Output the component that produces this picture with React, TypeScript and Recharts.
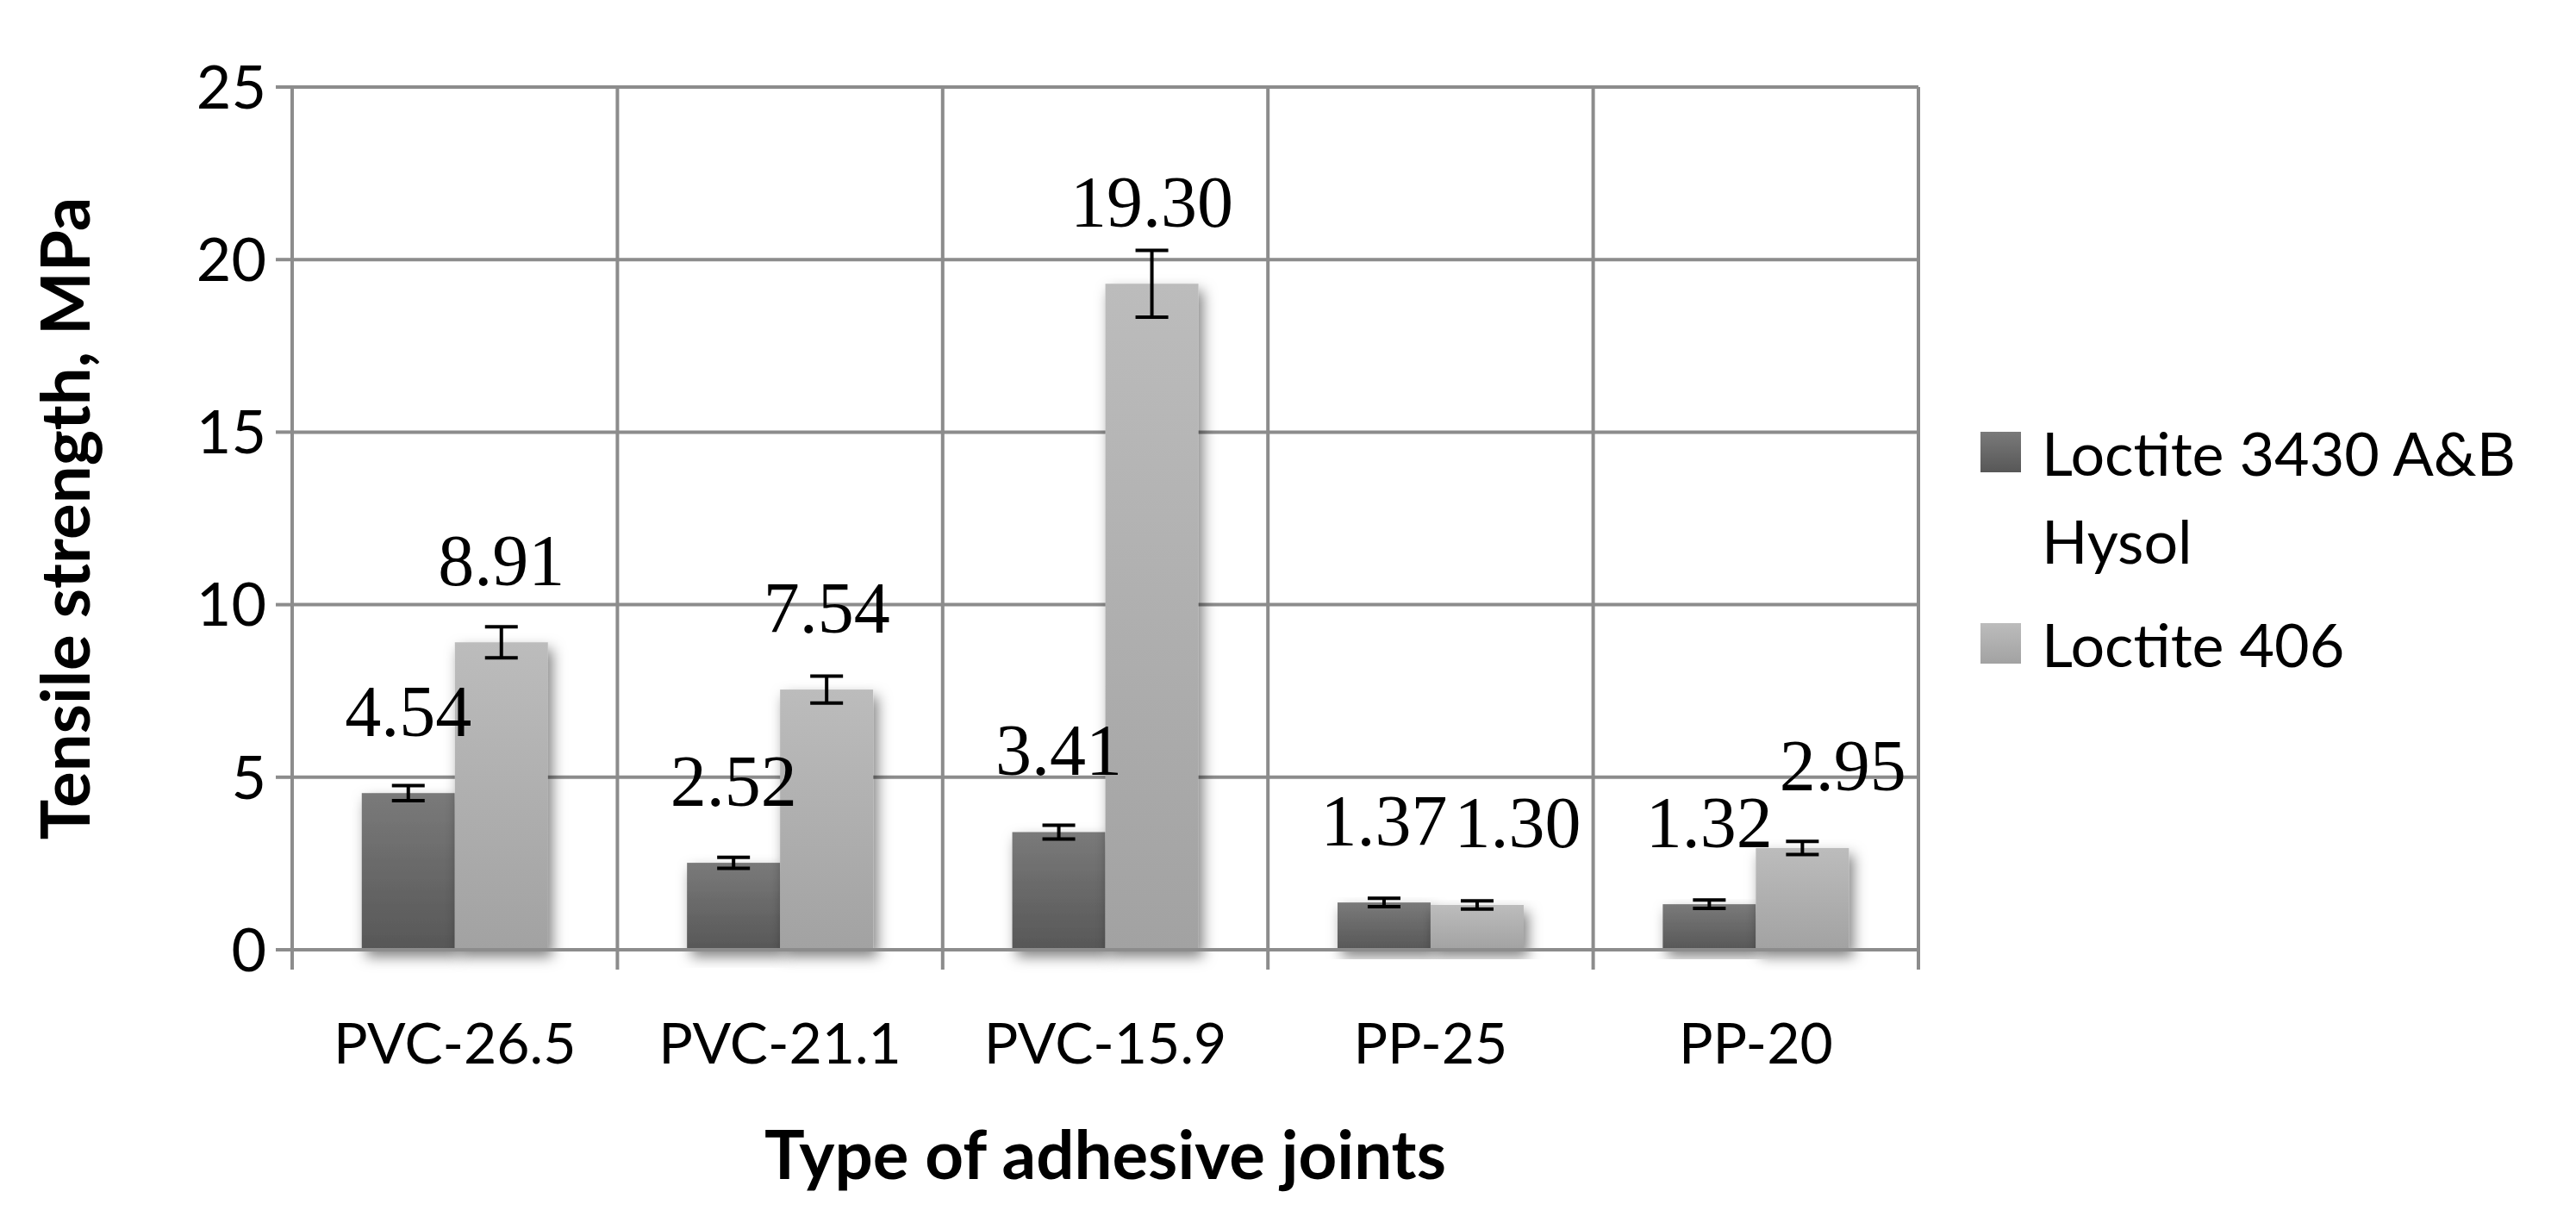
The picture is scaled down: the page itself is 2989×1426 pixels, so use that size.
import { BarChart, Bar, XAxis, YAxis, CartesianGrid, ErrorBar, LabelList } from "recharts";

const categories = ["PVC-26.5", "PVC-21.1", "PVC-15.9", "PP-25", "PP-20"];
const hysolValues = [4.54, 2.52, 3.41, 1.37, 1.32];
const hysolErrors = [0.22, 0.16, 0.2, 0.12, 0.12];
const l406Values = [8.91, 7.54, 19.3, 1.3, 2.95];
const l406Errors = [0.45, 0.39, 0.97, 0.12, 0.19];
const yTicks = [0, 5, 10, 15, 20, 25];
const seriesNames = ["Loctite 3430 A&B Hysol", "Loctite 406"];

const data = categories.map((name, i) => ({
  name,
  hysol: hysolValues[i],
  hysolErr: hysolErrors[i],
  l406: l406Values[i],
  l406Err: l406Errors[i],
}));

const W = 2973;
const H = 1410;
const GRID = "#8c8c8c";
const SANS = "Lato, 'Open Sans', sans-serif";
const SERIF = "'Liberation Serif', 'DejaVu Serif', serif";
const LABEL_SIZE = 84;
const LABEL_RISE = 95;
const PLOT_W = 1887;
const BAND = PLOT_W / categories.length;

const fmt = (v: number) => v.toFixed(2);
// rough width of a number in the serif font
const textWidth = (s: string) => (s.length - 1) * 0.5 * LABEL_SIZE + 0.25 * LABEL_SIZE;

function CategoryTick(props: any) {
  const { x, y, payload, index } = props;
  const half = BAND / 2;
  return (
    <g>
      <line x1={x - half} x2={x - half} y1={y} y2={y + 23} stroke={GRID} strokeWidth={4} />
      {index === categories.length - 1 && (
        <line x1={x + half} x2={x + half} y1={y} y2={y + 23} stroke={GRID} strokeWidth={4} />
      )}
      <text x={x} y={y + 132} textAnchor="middle" fontFamily={SANS} fontSize={66} fill="#000">
        {payload.value}
      </text>
    </g>
  );
}

function HysolLabel(props: any) {
  const vb = props.viewBox ?? props;
  const { x, y, width } = vb;
  return (
    <text x={x + width / 2} y={y - LABEL_RISE} textAnchor="middle" dominantBaseline="central"
      fontFamily={SERIF} fontSize={LABEL_SIZE} fill="#000">
      {fmt(Number(props.value))}
    </text>
  );
}

function L406Label(props: any) {
  const vb = props.viewBox ?? props;
  const { x, y, width, height } = vb;
  const value = Number(props.value);
  const darkVal = hysolValues[props.index];
  const base = y + height;
  const darkTop = base - (height * darkVal) / value;
  const darkCx = x - width / 2;
  const darkCy = darkTop - LABEL_RISE;
  const cy = y - LABEL_RISE;
  let cx = x + width / 2;
  const wD = textWidth(fmt(darkVal));
  const wL = textWidth(fmt(value));
  // push right when it would sit on top of the neighbour's label
  if (Math.abs(cy - darkCy) < LABEL_SIZE && cx - wL / 2 < darkCx + wD / 2 + 8) {
    cx = darkCx + wD / 2 + 8 + wL / 2;
  }
  return (
    <text x={cx} y={cy} textAnchor="middle" dominantBaseline="central"
      fontFamily={SERIF} fontSize={LABEL_SIZE} fill="#000">
      {fmt(value)}
    </text>
  );
}

const barShape = (grad: string) => (props: any) => {
  const { x, y, width, height } = props;
  return <rect x={x} y={y} width={width} height={height} fill={`url(#${grad})`} filter="url(#barShadow)" />;
};

const legendItems = [
  { name: seriesNames[0], bg: "linear-gradient(#7a7a7a, #575757)" },
  { name: seriesNames[1], bg: "linear-gradient(#bcbcbc, #a2a2a2)" },
];

export default function App() {
  return (
    <div style={{ position: "relative", width: W, height: H, background: "#fff" }}>
      <BarChart
        width={W}
        height={H}
        data={data}
        margin={{ top: 93, right: 755, bottom: 0, left: 0 }}
        barCategoryGap="21.4%"
        barGap={0}
      >
        <defs>
          <linearGradient id="gradDark" x1="0" y1="0" x2="0" y2="1">
            <stop offset="0%" stopColor="#7a7a7a" />
            <stop offset="100%" stopColor="#575757" />
          </linearGradient>
          <linearGradient id="gradLight" x1="0" y1="0" x2="0" y2="1">
            <stop offset="0%" stopColor="#bcbcbc" />
            <stop offset="100%" stopColor="#a2a2a2" />
          </linearGradient>
          <filter id="barShadow" x="-30%" y="-10%" width="160%" height="130%">
            <feDropShadow dx="5" dy="8" stdDeviation="8" floodColor="#000" floodOpacity="0.5" />
          </filter>
        </defs>
        <CartesianGrid
          stroke={GRID}
          strokeWidth={4}
          verticalCoordinatesGenerator={(p: any) =>
            [0, 1, 2, 3, 4, 5].map((i) => p.offset.left + (i * p.offset.width) / categories.length)
          }
        />
        <XAxis
          dataKey="name"
          height={316}
          tickLine={false}
          tickSize={0}
          tickMargin={0}
          axisLine={{ stroke: GRID, strokeWidth: 4 }}
          tick={<CategoryTick />}
          interval={0}
          label={{
            content: (p: any) => {
              const vb = p.viewBox;
              return (
                <text x={vb.x + vb.width / 2} y={vb.y + 236} textAnchor="middle" dominantBaseline="central"
                  fontFamily={SANS} fontWeight="bold" fontSize={78} fill="#000">
                  Type of adhesive joints
                </text>
              );
            },
          }}
        />
        <YAxis
          width={331}
          domain={[0, 25]}
          ticks={yTicks}
          interval={0}
          tickSize={19}
          tickMargin={11}
          tickLine={{ stroke: GRID, strokeWidth: 4 }}
          axisLine={{ stroke: GRID, strokeWidth: 4 }}
          tick={{ fontFamily: SANS, fontSize: 70, fill: "#000" }}
          label={{
            content: (p: any) => {
              const vb = p.viewBox;
              const cy = vb.y + vb.height / 2;
              return (
                <text transform={`translate(66, ${cy}) rotate(-90)`} textAnchor="middle" dominantBaseline="central"
                  fontFamily={SANS} fontWeight="bold" fontSize={78} fill="#000">
                  Tensile strength, MPa
                </text>
              );
            },
          }}
        />
        <Bar dataKey="hysol" name={seriesNames[0]} shape={barShape("gradDark")} isAnimationActive={false}>
          <ErrorBar dataKey="hysolErr" width={19} strokeWidth={4} stroke="#000" direction="y" />
          <LabelList dataKey="hysol" content={<HysolLabel />} />
        </Bar>
        <Bar dataKey="l406" name={seriesNames[1]} shape={barShape("gradLight")} isAnimationActive={false}>
          <ErrorBar dataKey="l406Err" width={19} strokeWidth={4} stroke="#000" direction="y" />
          <LabelList dataKey="l406" content={<L406Label />} />
        </Bar>
      </BarChart>
      <div style={{ position: "absolute", left: 2290, top: 466, fontFamily: SANS, fontSize: 70, color: "#000" }}>
        {legendItems.map((it, i) => (
          <div key={it.name} style={{ display: "flex", alignItems: "flex-start", marginTop: i === 0 ? 0 : 18 }}>
            <div style={{ width: 47, height: 47, marginTop: 27, marginRight: 24, background: it.bg, flexShrink: 0 }} />
            <div style={{ width: 600, lineHeight: "102px" }}>{it.name}</div>
          </div>
        ))}
      </div>
    </div>
  );
}
